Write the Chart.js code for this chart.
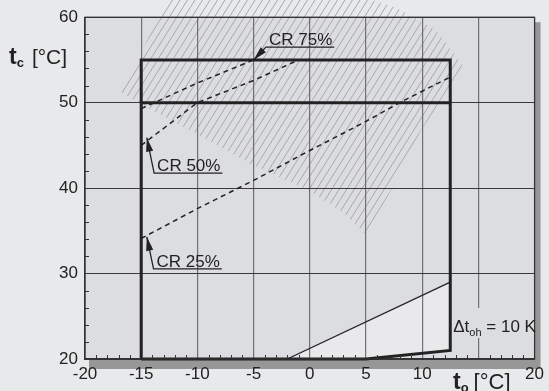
<!DOCTYPE html>
<html>
<head>
<meta charset="utf-8">
<script src="https://cdn.jsdelivr.net/npm/chart.js@4"></script>
<style>
html, body { margin: 0; padding: 0; background: #e8e9eb; }
canvas { display: block; }
</style>
</head>
<body>
<canvas id="myChart" width="549" height="391"></canvas>
<script>
"use strict";
// axis ticks
const xTicks = [-20, -15, -10, -5, 0, 5, 10, 15, 20];
const xTickLabels = ["-20", "-15", "-10", "-5", "0", "5", "10", "", "20"];
const yTicks = [20, 30, 40, 50, 60];
const yTickLabels = ["20", "30", "40", "50", "60"];

// operating envelope
const envX = [-15, -15, 12.5, 12.5, 5, -15];
const envY = [20, 55, 55, 21, 20, 20];
const midX = [-15, 12.5];
const midY = [50, 50];

// capacity curves
const cr75X = [-15, -10, -5];
const cr75Y = [49.3, 52.3, 55];
const cr50X = [-15, -12.5, -10, -5, -1];
const cr50Y = [45, 47.5, 50, 52.6, 55];
const cr25X = [-15, -10, -5, 0, 5, 8, 12.5];
const cr25Y = [34.1, 37.6, 40.9, 44.4, 47.8, 50, 53];

// superheat 10 K line and its region
const ohX = [-2, 12.5];
const ohY = [20, 29];
const triX = [-2, 12.5, 12.5, 5];
const triY = [20, 29, 21, 20];

// hatched zone outline
const hatchX = [-12.5, -16.75, -15.1, -9.9, -5.05, -0.2, 2.9, 5.05, 7.25, 9.9, 12.1, 13.7, 11.2, 7.7, 4.2];
const hatchY = [62.6, 51.2, 49.9, 46.2, 42.7, 39.8, 37.2, 34.5, 39.8, 46.8, 50.9, 54.2, 58.5, 61.1, 62.6];

// callouts
const crText = ["CR 75%", "CR 50%", "CR 25%"];
const crTipX = [-5, -14.5, -14.5];
const crTipY = [55, 45.9, 34.3];
const crCornerX = [-3.9, -13.85, -13.9];
const crCornerY = [56.5, 41.75, 30.55];

const FONT = "'Liberation Sans', Arial, sans-serif";
const PAGE = "#e8e9eb";
const PLOT = "#dcdde0";
const INK = "#222";

function pts(xs, ys) {
    return xs.map((x, i) => ({ x: x, y: ys[i] }));
}

function parts(ctx, x, y, list) {
    list.forEach(p => {
        ctx.font = p[1];
        x += p[3] || 0;
        ctx.fillText(p[0], x, y + (p[2] || 0));
        x += ctx.measureText(p[0]).width;
    });
}

const backdrop = {
    id: "backdrop",
    beforeDraw(chart) {
        const { ctx, chartArea: a, scales: { x, y } } = chart;
        ctx.save();
        ctx.fillStyle = PAGE;
        ctx.fillRect(0, 0, chart.width, chart.height);
        // shadow
        ctx.fillStyle = "#979797";
        ctx.fillRect(a.left + 4, a.top + 5, a.right - a.left + 2, a.bottom - a.top + 5);
        ctx.fillStyle = PLOT;
        ctx.fillRect(a.left, a.top, a.right - a.left, a.bottom - a.top);

        // light region under the 10 K line
        ctx.beginPath();
        triX.forEach((v, i) => {
            const px = x.getPixelForValue(v), py = y.getPixelForValue(triY[i]);
            if (i) ctx.lineTo(px, py); else ctx.moveTo(px, py);
        });
        ctx.closePath();
        ctx.fillStyle = "#e9e9eb";
        ctx.fill();

        // hatched zone
        ctx.beginPath();
        hatchX.forEach((v, i) => {
            const px = x.getPixelForValue(v), py = y.getPixelForValue(hatchY[i]);
            if (i) ctx.lineTo(px, py); else ctx.moveTo(px, py);
        });
        ctx.closePath();
        ctx.clip();
        ctx.strokeStyle = "#a9a9ab";
        ctx.lineWidth = 1;
        ctx.beginPath();
        for (let s = -300; s < 800; s += 7.5) {
            ctx.moveTo(s, 420);
            ctx.lineTo(s + 420 / 1.6, 0);
        }
        ctx.stroke();
        ctx.restore();
    },
    afterDraw(chart) {
        const { ctx, chartArea: a, scales: { x, y } } = chart;
        ctx.save();
        // frame
        ctx.strokeStyle = "#333";
        ctx.lineWidth = 1.2;
        ctx.strokeRect(a.left, a.top, a.right - a.left, a.bottom - a.top);

        // minor ticks
        ctx.lineWidth = 1;
        ctx.beginPath();
        for (let v = -20; v <= 20; v++) {
            if (v % 5 === 0) continue;
            const px = Math.round(x.getPixelForValue(v)) + 0.5;
            ctx.moveTo(px, a.bottom);
            ctx.lineTo(px, a.bottom - 4);
        }
        for (let v = 20; v <= 60; v += 2) {
            if (v % 10 === 0) continue;
            const py = Math.round(y.getPixelForValue(v)) + 0.5;
            ctx.moveTo(a.left, py);
            ctx.lineTo(a.left + 4, py);
        }
        ctx.stroke();

        // CR callouts
        ctx.fillStyle = INK;
        ctx.strokeStyle = INK;
        ctx.font = "17px " + FONT;
        crText.forEach((t, i) => {
            const tx = x.getPixelForValue(crTipX[i]), ty = y.getPixelForValue(crTipY[i]);
            const cx = x.getPixelForValue(crCornerX[i]), cy = y.getPixelForValue(crCornerY[i]);
            const w = ctx.measureText(t).width;
            ctx.lineWidth = 1.3;
            ctx.beginPath();
            ctx.moveTo(tx, ty);
            ctx.lineTo(cx, cy);
            ctx.lineTo(cx + w + 5, cy);
            ctx.stroke();
            const ang = Math.atan2(ty - cy, tx - cx);
            const L = 14, H = 3.6;
            ctx.beginPath();
            ctx.moveTo(tx, ty);
            ctx.lineTo(tx - L * Math.cos(ang) + H * Math.sin(ang), ty - L * Math.sin(ang) - H * Math.cos(ang));
            ctx.lineTo(tx - L * Math.cos(ang) - H * Math.sin(ang), ty - L * Math.sin(ang) + H * Math.cos(ang));
            ctx.closePath();
            ctx.fill();
            ctx.fillText(t, cx + 3, cy - 2);
        });

        // delta t label
        const lx = x.getPixelForValue(12.5) + 2;
        ctx.fillStyle = PLOT;
        ctx.fillRect(lx, 308, a.right - lx - 1, 30);
        ctx.fillStyle = INK;
        parts(ctx, lx + 1, 332, [
            ["\u0394", "17px " + FONT],
            ["t", "17px " + FONT],
            ["oh", "11px " + FONT, 3.5],
            [" = 10 K", "17px " + FONT]
        ]);

        // axis titles
        parts(ctx, 9, 64, [
            ["t", "bold 23px " + FONT],
            ["c", "bold 13px " + FONT, 3],
            ["[\u00b0C]", "21px " + FONT, 0, 8]
        ]);
        parts(ctx, 453, 389, [
            ["t", "bold 23px " + FONT],
            ["o", "bold 13px " + FONT, 3],
            ["[\u00b0C]", "22px " + FONT, 0, 5]
        ]);
        ctx.restore();
    }
};

const line = (xs, ys, w, dash, color) => ({
    data: pts(xs, ys),
    showLine: true,
    pointRadius: 0,
    borderColor: color || INK,
    borderWidth: w,
    borderDash: dash || [],
    tension: 0,
    clip: false
});

new Chart(document.getElementById("myChart"), {
    type: "scatter",
    data: {
        datasets: [
            line(ohX, ohY, 1.3),
            line(cr75X, cr75Y, 1.5, [5, 4]),
            line(cr50X, cr50Y, 1.5, [5, 4]),
            line(cr25X, cr25Y, 1.5, [5, 4]),
            line(midX, midY, 3),
            line(envX, envY, 3)
        ]
    },
    options: {
        responsive: false,
        animation: false,
        events: [],
        layout: { padding: { top: 17, right: 10, left: 0, bottom: 0 } },
        plugins: { legend: { display: false }, tooltip: { enabled: false } },
        scales: {
            x: {
                type: "linear",
                min: -20,
                max: 20,
                afterBuildTicks: s => { s.ticks = xTicks.map(v => ({ value: v })); },
                afterFit: s => { s.height = 32; },
                ticks: {
                    padding: 5,
                    color: INK,
                    font: { family: FONT, size: 17 },
                    maxRotation: 0,
                    autoSkip: false,
                    callback: (v, i) => xTickLabels[i]
                },
                grid: { color: "#707070", lineWidth: 1.2, drawTicks: false },
                border: { color: "#333", width: 1.2 }
            },
            y: {
                type: "linear",
                min: 20,
                max: 60,
                afterBuildTicks: s => { s.ticks = yTicks.map(v => ({ value: v })); },
                afterFit: s => { s.width = 85; },
                ticks: {
                    padding: 7,
                    color: INK,
                    font: { family: FONT, size: 17 },
                    callback: (v, i) => yTickLabels[i]
                },
                grid: { color: "#3a3a3a", lineWidth: 1, drawTicks: false },
                border: { color: "#333", width: 1.2 }
            }
        }
    },
    plugins: [backdrop]
});
</script>
</body>
</html>
